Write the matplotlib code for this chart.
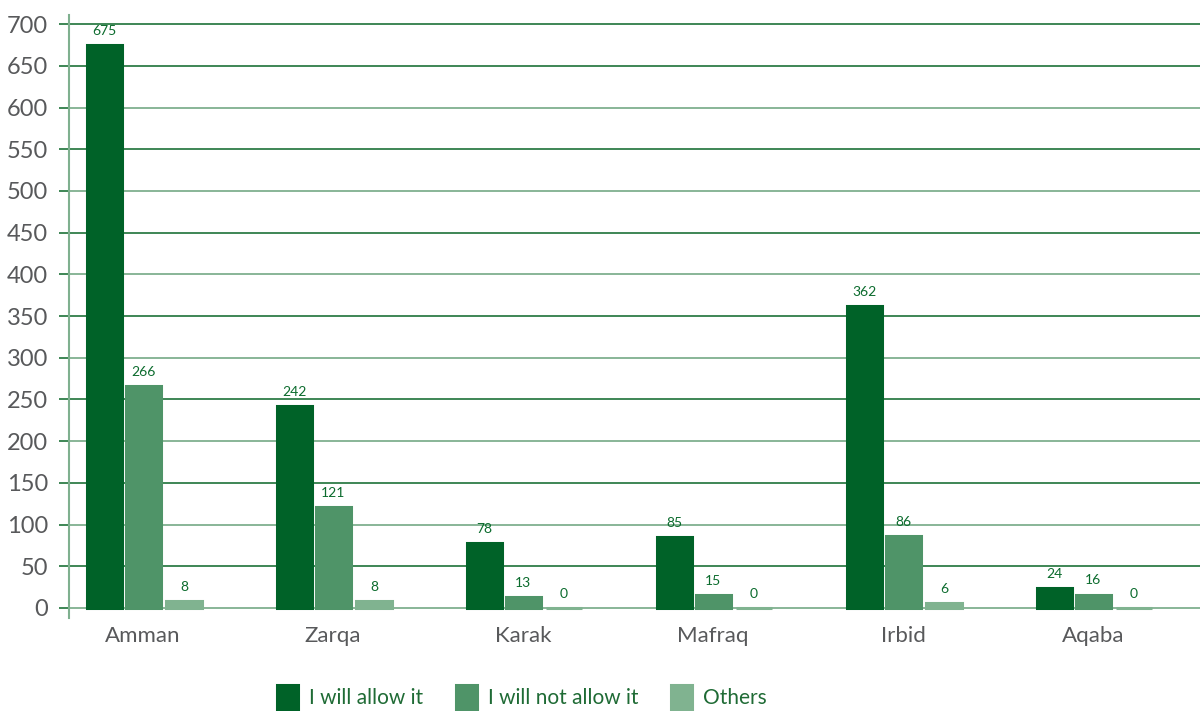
import matplotlib
matplotlib.use("Agg")
import matplotlib.pyplot as plt
import numpy as np

# Survey responses by governorate
governorates = ["Amman", "Zarqa", "Karak", "Mafraq", "Irbid", "Aqaba"]
series_names = ["I will allow it", "I will not allow it", "Others"]
allow_it = [675, 242, 78, 85, 362, 24]
not_allow_it = [266, 121, 13, 15, 86, 16]
others = [8, 8, 0, 0, 6, 0]
y_ticks = list(range(0, 701, 50))

colors = ["#006228", "#4f9468", "#80b390"]
grid_dark = "#2f7d48"
grid_light = "#7fb08f"
tick_grey = "#58595b"
label_green = "#0b6b2d"

plt.rcParams["font.family"] = ["Lato", "DejaVu Sans"]

fig = plt.figure(figsize=(12.02, 7.11), dpi=100)
ax = fig.add_axes([0.0574, 0.1308, 0.9406, 0.8482])

x = np.arange(len(governorates))
width = 0.185
offsets = [-0.205, 0.0, 0.215]
series = [allow_it, not_allow_it, others]

for vals, name, col, off in zip(series, series_names, colors, offsets):
    pos = x + off
    bars = ax.bar(pos, vals, width, color=col, edgecolor=col, linewidth=2.2,
                  label=name, zorder=3)
    for b, v in zip(bars, vals):
        ax.annotate(str(v), (b.get_x() + b.get_width() / 2, v),
                    xytext=(0, 6), textcoords="offset points",
                    ha="center", va="bottom", fontsize=10,
                    color=label_green, zorder=4)

ax.set_xlim(-0.39, 5.56)
ax.set_ylim(-12, 711)

# horizontal gridlines with alternating shades
for t in y_ticks:
    shade = grid_light if (t % 100 == 0 and t != 700) else grid_dark
    ax.axhline(t, color=shade, linewidth=1.3, zorder=1)

ax.set_yticks(y_ticks)
ax.set_yticklabels([str(t) for t in y_ticks], fontsize=17, color=tick_grey)
ax.tick_params(axis="y", length=7, width=1.3, color=grid_dark, pad=8)
ax.set_xticks(x)
ax.set_xticklabels(governorates, fontsize=16, color=tick_grey)
ax.tick_params(axis="x", length=0, pad=6)

for side in ["top", "right", "bottom"]:
    ax.spines[side].set_visible(False)
ax.spines["left"].set_color(grid_light)
ax.spines["left"].set_linewidth(1.5)

leg = fig.legend(loc="upper left", bbox_to_anchor=(0.2305, 0.037), ncol=3,
                 frameon=False, fontsize=15, handlelength=1.0,
                 handleheight=1.4, handletextpad=0.55, columnspacing=1.55,
                 borderpad=0, borderaxespad=0)
for txt in leg.get_texts():
    txt.set_color("#1f6b35")

fig.savefig("out.png", dpi=100)
